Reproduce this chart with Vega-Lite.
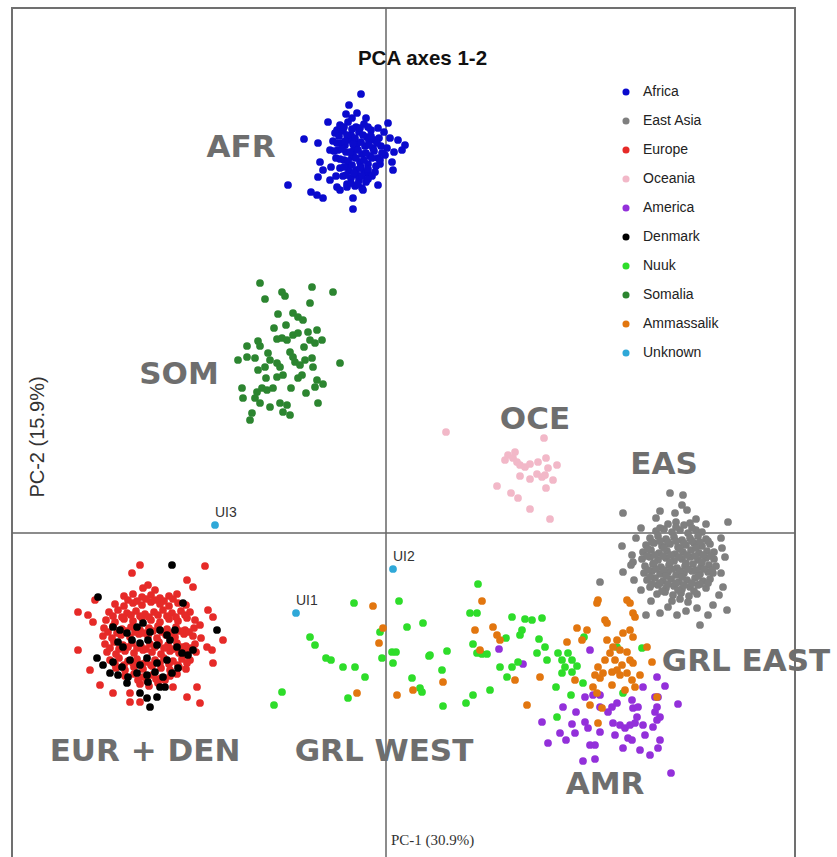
{
  "$schema": "https://vega.github.io/schema/vega-lite/v6.json",
  "autosize": {"type": "none"},
  "width": 783,
  "height": 860,
  "padding": {"left": 12, "top": 8, "right": 42, "bottom": -11},
  "background": "white",
  "title": {"text": "PCA axes 1-2", "anchor": "middle", "dx": 19, "offset": -78, "baseline": "alphabetic", "font": "Liberation Sans", "fontSize": 20.5, "fontWeight": "bold", "color": "#111111"},
  "config": {"view": {"stroke": "#707070", "strokeWidth": 2}},
  "datasets": {
    "pts": [
      {"pop":"Africa","pc1":-25,"pc2":439},{"pop":"Africa","pc1":-37,"pc2":428},{"pop":"Africa","pc1":-29,"pc2":420},{"pop":"Africa","pc1":-82,"pc2":394},{"pop":"Africa","pc1":-68,"pc2":390},{"pop":"Africa","pc1":-98,"pc2":348},{"pop":"Africa","pc1":-75,"pc2":341},{"pop":"Africa","pc1":-69,"pc2":338},{"pop":"Africa","pc1":-63,"pc2":335},{"pop":"Africa","pc1":-33,"pc2":335},{"pop":"Africa","pc1":-33,"pc2":324},{"pop":"Africa","pc1":-8,"pc2":348},{"pop":"Africa","pc1":-18,"pc2":360},{"pop":"Africa","pc1":19,"pc2":388},{"pop":"Africa","pc1":16,"pc2":383},{"pop":"Africa","pc1":6,"pc2":371},{"pop":"Africa","pc1":7,"pc2":363},{"pop":"Africa","pc1":4,"pc2":395},{"pop":"Africa","pc1":2,"pc2":410},{"pop":"Africa","pc1":-8,"pc2":405},{"pop":"Africa","pc1":-58,"pc2":411},{"pop":"Africa","pc1":-49,"pc2":403},{"pop":"Africa","pc1":-66,"pc2":371},{"pop":"Africa","pc1":-63,"pc2":363},{"pop":"Africa","pc1":-68,"pc2":356},{"pop":"Africa","pc1":-56,"pc2":353},{"pop":"Africa","pc1":-49,"pc2":346},{"pop":"Africa","pc1":-23,"pc2":343},{"pop":"Africa","pc1":-39,"pc2":346},
      {"pop":"Africa","pc1":-46,"pc2":408},{"pop":"Africa","pc1":-38,"pc2":411},{"pop":"Africa","pc1":-30,"pc2":406},{"pop":"Africa","pc1":-22,"pc2":409},{"pop":"Africa","pc1":-15,"pc2":403},{"pop":"Africa","pc1":-51,"pc2":400},{"pop":"Africa","pc1":-43,"pc2":402},{"pop":"Africa","pc1":-35,"pc2":398},{"pop":"Africa","pc1":-27,"pc2":401},{"pop":"Africa","pc1":-19,"pc2":396},{"pop":"Africa","pc1":-11,"pc2":393},{"pop":"Africa","pc1":-53,"pc2":392},{"pop":"Africa","pc1":-45,"pc2":390},{"pop":"Africa","pc1":-37,"pc2":393},{"pop":"Africa","pc1":-29,"pc2":389},{"pop":"Africa","pc1":-21,"pc2":387},{"pop":"Africa","pc1":-13,"pc2":385},{"pop":"Africa","pc1":-5,"pc2":387},{"pop":"Africa","pc1":-48,"pc2":383},{"pop":"Africa","pc1":-40,"pc2":381},{"pop":"Africa","pc1":-32,"pc2":384},{"pop":"Africa","pc1":-24,"pc2":379},{"pop":"Africa","pc1":-16,"pc2":377},{"pop":"Africa","pc1":-8,"pc2":375},{"pop":"Africa","pc1":-50,"pc2":375},{"pop":"Africa","pc1":-42,"pc2":373},{"pop":"Africa","pc1":-34,"pc2":376},{"pop":"Africa","pc1":-26,"pc2":371},{"pop":"Africa","pc1":-18,"pc2":369},{"pop":"Africa","pc1":-10,"pc2":367},{"pop":"Africa","pc1":-46,"pc2":365},{"pop":"Africa","pc1":-38,"pc2":367},{"pop":"Africa","pc1":-30,"pc2":363},{"pop":"Africa","pc1":-22,"pc2":361},{"pop":"Africa","pc1":-14,"pc2":357},{"pop":"Africa","pc1":-43,"pc2":357},{"pop":"Africa","pc1":-35,"pc2":355},{"pop":"Africa","pc1":-27,"pc2":353},{"pop":"Africa","pc1":-39,"pc2":349},{"pop":"Africa","pc1":-31,"pc2":347},{"pop":"Africa","pc1":-24,"pc2":345},{"pop":"Africa","pc1":-1,"pc2":378},{"pop":"Africa","pc1":-2,"pc2":401},{"pop":"Africa","pc1":-56,"pc2":383},{"pop":"Africa","pc1":-55,"pc2":366},{"pop":"Africa","pc1":-41,"pc2":388},{"pop":"Africa","pc1":-33,"pc2":378},{"pop":"Africa","pc1":-25,"pc2":366},{"pop":"Africa","pc1":-37,"pc2":362},{"pop":"Africa","pc1":-29,"pc2":358},{"pop":"Africa","pc1":-17,"pc2":392},{"pop":"Africa","pc1":-50,"pc2":357},{"pop":"Africa","pc1":-46,"pc2":343},{"pop":"Africa","pc1":-20,"pc2":351},{"pop":"Africa","pc1":-11,"pc2":361},{"pop":"Africa","pc1":-6,"pc2":369},{"pop":"Africa","pc1":1,"pc2":385},{"pop":"Africa","pc1":8,"pc2":381},{"pop":"Africa","pc1":12,"pc2":393},{"pop":"Africa","pc1":-40,"pc2":419},{"pop":"Africa","pc1":-34,"pc2":415},{"pop":"Africa","pc1":-20,"pc2":415},
      {"pop":"Africa","pc1":-42,"pc2":406},{"pop":"Africa","pc1":-34,"pc2":404},{"pop":"Africa","pc1":-26,"pc2":405},{"pop":"Africa","pc1":-18,"pc2":406},
      {"pop":"Africa","pc1":-47,"pc2":397},{"pop":"Africa","pc1":-39,"pc2":398},{"pop":"Africa","pc1":-31,"pc2":395},{"pop":"Africa","pc1":-23,"pc2":398},{"pop":"Africa","pc1":-15,"pc2":397},{"pop":"Africa","pc1":-7,"pc2":395},
      {"pop":"Africa","pc1":-49,"pc2":390},{"pop":"Africa","pc1":-41,"pc2":392},{"pop":"Africa","pc1":-33,"pc2":389},{"pop":"Africa","pc1":-25,"pc2":391},{"pop":"Africa","pc1":-17,"pc2":388},{"pop":"Africa","pc1":-9,"pc2":390},
      {"pop":"Africa","pc1":-52,"pc2":382},{"pop":"Africa","pc1":-44,"pc2":384},{"pop":"Africa","pc1":-36,"pc2":381},{"pop":"Africa","pc1":-28,"pc2":383},{"pop":"Africa","pc1":-20,"pc2":380},{"pop":"Africa","pc1":-12,"pc2":382},{"pop":"Africa","pc1":-4,"pc2":380},
      {"pop":"Africa","pc1":-46,"pc2":374},{"pop":"Africa","pc1":-38,"pc2":372},{"pop":"Africa","pc1":-30,"pc2":375},{"pop":"Africa","pc1":-22,"pc2":373},{"pop":"Africa","pc1":-14,"pc2":375},{"pop":"Africa","pc1":-6,"pc2":373},
      {"pop":"Africa","pc1":-42,"pc2":366},{"pop":"Africa","pc1":-34,"pc2":368},{"pop":"Africa","pc1":-26,"pc2":365},{"pop":"Africa","pc1":-18,"pc2":364},
      {"pop":"Africa","pc1":-40,"pc2":358},{"pop":"Africa","pc1":-32,"pc2":360},{"pop":"Africa","pc1":-24,"pc2":357},{"pop":"Africa","pc1":-18,"pc2":354},
      {"pop":"Africa","pc1":-35,"pc2":350},{"pop":"Africa","pc1":-28,"pc2":349},

      {"pop":"East Asia","pc1":282,"pc2":9},{"pop":"East Asia","pc1":290,"pc2":11},{"pop":"East Asia","pc1":298,"pc2":8},{"pop":"East Asia","pc1":304,"pc2":10},
      {"pop":"East Asia","pc1":270,"pc2":2},{"pop":"East Asia","pc1":278,"pc2":4},{"pop":"East Asia","pc1":286,"pc2":1},{"pop":"East Asia","pc1":294,"pc2":3},{"pop":"East Asia","pc1":302,"pc2":0},{"pop":"East Asia","pc1":310,"pc2":3},{"pop":"East Asia","pc1":316,"pc2":1},
      {"pop":"East Asia","pc1":264,"pc2":-5},{"pop":"East Asia","pc1":272,"pc2":-3},{"pop":"East Asia","pc1":280,"pc2":-6},{"pop":"East Asia","pc1":288,"pc2":-4},{"pop":"East Asia","pc1":296,"pc2":-7},{"pop":"East Asia","pc1":304,"pc2":-5},{"pop":"East Asia","pc1":312,"pc2":-3},{"pop":"East Asia","pc1":320,"pc2":-6},
      {"pop":"East Asia","pc1":260,"pc2":-12},{"pop":"East Asia","pc1":268,"pc2":-10},{"pop":"East Asia","pc1":276,"pc2":-13},{"pop":"East Asia","pc1":284,"pc2":-11},{"pop":"East Asia","pc1":292,"pc2":-14},{"pop":"East Asia","pc1":300,"pc2":-12},{"pop":"East Asia","pc1":308,"pc2":-10},{"pop":"East Asia","pc1":316,"pc2":-13},{"pop":"East Asia","pc1":324,"pc2":-11},
      {"pop":"East Asia","pc1":257,"pc2":-19},{"pop":"East Asia","pc1":265,"pc2":-17},{"pop":"East Asia","pc1":273,"pc2":-20},{"pop":"East Asia","pc1":281,"pc2":-18},{"pop":"East Asia","pc1":289,"pc2":-21},{"pop":"East Asia","pc1":297,"pc2":-19},{"pop":"East Asia","pc1":305,"pc2":-17},{"pop":"East Asia","pc1":313,"pc2":-20},{"pop":"East Asia","pc1":321,"pc2":-18},{"pop":"East Asia","pc1":328,"pc2":-19},
      {"pop":"East Asia","pc1":256,"pc2":-26},{"pop":"East Asia","pc1":264,"pc2":-24},{"pop":"East Asia","pc1":272,"pc2":-27},{"pop":"East Asia","pc1":280,"pc2":-25},{"pop":"East Asia","pc1":288,"pc2":-28},{"pop":"East Asia","pc1":296,"pc2":-26},{"pop":"East Asia","pc1":304,"pc2":-24},{"pop":"East Asia","pc1":312,"pc2":-27},{"pop":"East Asia","pc1":320,"pc2":-25},{"pop":"East Asia","pc1":328,"pc2":-26},
      {"pop":"East Asia","pc1":259,"pc2":-33},{"pop":"East Asia","pc1":267,"pc2":-31},{"pop":"East Asia","pc1":275,"pc2":-34},{"pop":"East Asia","pc1":283,"pc2":-32},{"pop":"East Asia","pc1":291,"pc2":-35},{"pop":"East Asia","pc1":299,"pc2":-33},{"pop":"East Asia","pc1":307,"pc2":-31},{"pop":"East Asia","pc1":315,"pc2":-34},{"pop":"East Asia","pc1":323,"pc2":-32},{"pop":"East Asia","pc1":330,"pc2":-33},
      {"pop":"East Asia","pc1":258,"pc2":-40},{"pop":"East Asia","pc1":266,"pc2":-38},{"pop":"East Asia","pc1":274,"pc2":-41},{"pop":"East Asia","pc1":282,"pc2":-39},{"pop":"East Asia","pc1":290,"pc2":-42},{"pop":"East Asia","pc1":298,"pc2":-40},{"pop":"East Asia","pc1":306,"pc2":-38},{"pop":"East Asia","pc1":314,"pc2":-41},{"pop":"East Asia","pc1":322,"pc2":-39},{"pop":"East Asia","pc1":327,"pc2":-40},
      {"pop":"East Asia","pc1":261,"pc2":-47},{"pop":"East Asia","pc1":269,"pc2":-45},{"pop":"East Asia","pc1":277,"pc2":-48},{"pop":"East Asia","pc1":285,"pc2":-46},{"pop":"East Asia","pc1":293,"pc2":-49},{"pop":"East Asia","pc1":301,"pc2":-47},{"pop":"East Asia","pc1":309,"pc2":-45},{"pop":"East Asia","pc1":317,"pc2":-48},{"pop":"East Asia","pc1":324,"pc2":-46},
      {"pop":"East Asia","pc1":264,"pc2":-54},{"pop":"East Asia","pc1":272,"pc2":-52},{"pop":"East Asia","pc1":280,"pc2":-55},{"pop":"East Asia","pc1":288,"pc2":-53},{"pop":"East Asia","pc1":296,"pc2":-56},{"pop":"East Asia","pc1":304,"pc2":-54},{"pop":"East Asia","pc1":312,"pc2":-52},{"pop":"East Asia","pc1":320,"pc2":-55},
      {"pop":"East Asia","pc1":271,"pc2":-61},{"pop":"East Asia","pc1":279,"pc2":-59},{"pop":"East Asia","pc1":287,"pc2":-62},{"pop":"East Asia","pc1":295,"pc2":-60},{"pop":"East Asia","pc1":303,"pc2":-63},{"pop":"East Asia","pc1":311,"pc2":-61},
      {"pop":"East Asia","pc1":286,"pc2":-68},{"pop":"East Asia","pc1":294,"pc2":-66},{"pop":"East Asia","pc1":302,"pc2":-69},
      {"pop":"East Asia","pc1":266,"pc2":-9},{"pop":"East Asia","pc1":274,"pc2":-8},{"pop":"East Asia","pc1":282,"pc2":-9},{"pop":"East Asia","pc1":290,"pc2":-8},{"pop":"East Asia","pc1":298,"pc2":-10},{"pop":"East Asia","pc1":306,"pc2":-8},{"pop":"East Asia","pc1":314,"pc2":-9},{"pop":"East Asia","pc1":322,"pc2":-8},
      {"pop":"East Asia","pc1":261,"pc2":-23},{"pop":"East Asia","pc1":269,"pc2":-22},{"pop":"East Asia","pc1":277,"pc2":-23},{"pop":"East Asia","pc1":285,"pc2":-22},{"pop":"East Asia","pc1":293,"pc2":-24},{"pop":"East Asia","pc1":301,"pc2":-22},{"pop":"East Asia","pc1":309,"pc2":-23},{"pop":"East Asia","pc1":317,"pc2":-22},{"pop":"East Asia","pc1":325,"pc2":-23},
      {"pop":"East Asia","pc1":262,"pc2":-37},{"pop":"East Asia","pc1":270,"pc2":-36},{"pop":"East Asia","pc1":278,"pc2":-37},{"pop":"East Asia","pc1":286,"pc2":-36},{"pop":"East Asia","pc1":294,"pc2":-38},{"pop":"East Asia","pc1":302,"pc2":-36},{"pop":"East Asia","pc1":310,"pc2":-37},{"pop":"East Asia","pc1":318,"pc2":-36},{"pop":"East Asia","pc1":326,"pc2":-37},
      {"pop":"East Asia","pc1":266,"pc2":-51},{"pop":"East Asia","pc1":274,"pc2":-50},{"pop":"East Asia","pc1":282,"pc2":-51},{"pop":"East Asia","pc1":290,"pc2":-50},{"pop":"East Asia","pc1":298,"pc2":-52},{"pop":"East Asia","pc1":306,"pc2":-50},{"pop":"East Asia","pc1":314,"pc2":-51},{"pop":"East Asia","pc1":322,"pc2":-50},
      {"pop":"East Asia","pc1":262,"pc2":-16},{"pop":"East Asia","pc1":278,"pc2":-15},{"pop":"East Asia","pc1":294,"pc2":-16},{"pop":"East Asia","pc1":310,"pc2":-15},
      {"pop":"East Asia","pc1":268,"pc2":-30},{"pop":"East Asia","pc1":284,"pc2":-29},{"pop":"East Asia","pc1":300,"pc2":-30},{"pop":"East Asia","pc1":316,"pc2":-29},
      {"pop":"East Asia","pc1":264,"pc2":-44},{"pop":"East Asia","pc1":280,"pc2":-43},{"pop":"East Asia","pc1":296,"pc2":-44},{"pop":"East Asia","pc1":312,"pc2":-43},
      {"pop":"East Asia","pc1":276,"pc2":-58},{"pop":"East Asia","pc1":292,"pc2":-57},{"pop":"East Asia","pc1":308,"pc2":-58},
      {"pop":"East Asia","pc1":274,"pc2":5},{"pop":"East Asia","pc1":290,"pc2":6},{"pop":"East Asia","pc1":306,"pc2":5},
      {"pop":"East Asia","pc1":284,"pc2":40},{"pop":"East Asia","pc1":297,"pc2":38},{"pop":"East Asia","pc1":296,"pc2":28},{"pop":"East Asia","pc1":301,"pc2":23},{"pop":"East Asia","pc1":274,"pc2":22},{"pop":"East Asia","pc1":289,"pc2":20},{"pop":"East Asia","pc1":237,"pc2":20},{"pop":"East Asia","pc1":342,"pc2":11},{"pop":"East Asia","pc1":236,"pc2":-13},{"pop":"East Asia","pc1":214,"pc2":-49},{"pop":"East Asia","pc1":339,"pc2":-24},{"pop":"East Asia","pc1":336,"pc2":-15},{"pop":"East Asia","pc1":337,"pc2":-54},{"pop":"East Asia","pc1":341,"pc2":-77},{"pop":"East Asia","pc1":327,"pc2":-72},{"pop":"East Asia","pc1":322,"pc2":-82},{"pop":"East Asia","pc1":311,"pc2":-75},{"pop":"East Asia","pc1":314,"pc2":-92},{"pop":"East Asia","pc1":291,"pc2":-82},{"pop":"East Asia","pc1":274,"pc2":-80},{"pop":"East Asia","pc1":246,"pc2":-22},{"pop":"East Asia","pc1":247,"pc2":-29},{"pop":"East Asia","pc1":237,"pc2":-39},{"pop":"East Asia","pc1":245,"pc2":-32},{"pop":"East Asia","pc1":248,"pc2":-47},{"pop":"East Asia","pc1":255,"pc2":-57},{"pop":"East Asia","pc1":260,"pc2":-82},{"pop":"East Asia","pc1":270,"pc2":15},{"pop":"East Asia","pc1":310,"pc2":14},{"pop":"East Asia","pc1":320,"pc2":9},{"pop":"East Asia","pc1":255,"pc2":5},{"pop":"East Asia","pc1":250,"pc2":-5},{"pop":"East Asia","pc1":335,"pc2":-5},{"pop":"East Asia","pc1":335,"pc2":-40},{"pop":"East Asia","pc1":333,"pc2":-62},{"pop":"East Asia","pc1":282,"pc2":-74},{"pop":"East Asia","pc1":300,"pc2":-78},{"pop":"East Asia","pc1":265,"pc2":-68},

      {"pop":"Europe","pc1":-243,"pc2":-55},{"pop":"Europe","pc1":-231,"pc2":-57},
      {"pop":"Europe","pc1":-262,"pc2":-63},{"pop":"Europe","pc1":-253,"pc2":-61},{"pop":"Europe","pc1":-244,"pc2":-64},{"pop":"Europe","pc1":-235,"pc2":-62},{"pop":"Europe","pc1":-226,"pc2":-65},{"pop":"Europe","pc1":-217,"pc2":-63},{"pop":"Europe","pc1":-209,"pc2":-61},
      {"pop":"Europe","pc1":-271,"pc2":-71},{"pop":"Europe","pc1":-262,"pc2":-73},{"pop":"Europe","pc1":-253,"pc2":-70},{"pop":"Europe","pc1":-244,"pc2":-72},{"pop":"Europe","pc1":-235,"pc2":-69},{"pop":"Europe","pc1":-226,"pc2":-71},{"pop":"Europe","pc1":-217,"pc2":-73},{"pop":"Europe","pc1":-208,"pc2":-70},{"pop":"Europe","pc1":-200,"pc2":-72},
      {"pop":"Europe","pc1":-277,"pc2":-79},{"pop":"Europe","pc1":-268,"pc2":-77},{"pop":"Europe","pc1":-259,"pc2":-80},{"pop":"Europe","pc1":-250,"pc2":-78},{"pop":"Europe","pc1":-241,"pc2":-81},{"pop":"Europe","pc1":-232,"pc2":-79},{"pop":"Europe","pc1":-223,"pc2":-77},{"pop":"Europe","pc1":-214,"pc2":-80},{"pop":"Europe","pc1":-205,"pc2":-78},{"pop":"Europe","pc1":-196,"pc2":-79},
      {"pop":"Europe","pc1":-280,"pc2":-87},{"pop":"Europe","pc1":-271,"pc2":-89},{"pop":"Europe","pc1":-262,"pc2":-86},{"pop":"Europe","pc1":-253,"pc2":-88},{"pop":"Europe","pc1":-244,"pc2":-85},{"pop":"Europe","pc1":-235,"pc2":-87},{"pop":"Europe","pc1":-226,"pc2":-89},{"pop":"Europe","pc1":-217,"pc2":-86},{"pop":"Europe","pc1":-208,"pc2":-88},{"pop":"Europe","pc1":-199,"pc2":-85},{"pop":"Europe","pc1":-191,"pc2":-87},
      {"pop":"Europe","pc1":-282,"pc2":-95},{"pop":"Europe","pc1":-273,"pc2":-93},{"pop":"Europe","pc1":-264,"pc2":-96},{"pop":"Europe","pc1":-255,"pc2":-94},{"pop":"Europe","pc1":-246,"pc2":-97},{"pop":"Europe","pc1":-237,"pc2":-95},{"pop":"Europe","pc1":-228,"pc2":-93},{"pop":"Europe","pc1":-219,"pc2":-96},{"pop":"Europe","pc1":-210,"pc2":-94},{"pop":"Europe","pc1":-201,"pc2":-97},{"pop":"Europe","pc1":-192,"pc2":-95},
      {"pop":"Europe","pc1":-283,"pc2":-103},{"pop":"Europe","pc1":-274,"pc2":-105},{"pop":"Europe","pc1":-265,"pc2":-102},{"pop":"Europe","pc1":-256,"pc2":-104},{"pop":"Europe","pc1":-247,"pc2":-101},{"pop":"Europe","pc1":-238,"pc2":-103},{"pop":"Europe","pc1":-229,"pc2":-105},{"pop":"Europe","pc1":-220,"pc2":-102},{"pop":"Europe","pc1":-211,"pc2":-104},{"pop":"Europe","pc1":-202,"pc2":-101},{"pop":"Europe","pc1":-193,"pc2":-103},{"pop":"Europe","pc1":-185,"pc2":-105},
      {"pop":"Europe","pc1":-281,"pc2":-111},{"pop":"Europe","pc1":-272,"pc2":-109},{"pop":"Europe","pc1":-263,"pc2":-112},{"pop":"Europe","pc1":-254,"pc2":-110},{"pop":"Europe","pc1":-245,"pc2":-113},{"pop":"Europe","pc1":-236,"pc2":-111},{"pop":"Europe","pc1":-227,"pc2":-109},{"pop":"Europe","pc1":-218,"pc2":-112},{"pop":"Europe","pc1":-209,"pc2":-110},{"pop":"Europe","pc1":-200,"pc2":-113},{"pop":"Europe","pc1":-191,"pc2":-111},
      {"pop":"Europe","pc1":-279,"pc2":-119},{"pop":"Europe","pc1":-270,"pc2":-121},{"pop":"Europe","pc1":-261,"pc2":-118},{"pop":"Europe","pc1":-252,"pc2":-120},{"pop":"Europe","pc1":-243,"pc2":-117},{"pop":"Europe","pc1":-234,"pc2":-119},{"pop":"Europe","pc1":-225,"pc2":-121},{"pop":"Europe","pc1":-216,"pc2":-118},{"pop":"Europe","pc1":-207,"pc2":-120},{"pop":"Europe","pc1":-198,"pc2":-117},{"pop":"Europe","pc1":-190,"pc2":-119},
      {"pop":"Europe","pc1":-276,"pc2":-127},{"pop":"Europe","pc1":-267,"pc2":-125},{"pop":"Europe","pc1":-258,"pc2":-128},{"pop":"Europe","pc1":-249,"pc2":-126},{"pop":"Europe","pc1":-240,"pc2":-129},{"pop":"Europe","pc1":-231,"pc2":-127},{"pop":"Europe","pc1":-222,"pc2":-125},{"pop":"Europe","pc1":-213,"pc2":-128},{"pop":"Europe","pc1":-204,"pc2":-126},{"pop":"Europe","pc1":-196,"pc2":-127},
      {"pop":"Europe","pc1":-270,"pc2":-135},{"pop":"Europe","pc1":-261,"pc2":-137},{"pop":"Europe","pc1":-252,"pc2":-134},{"pop":"Europe","pc1":-243,"pc2":-136},{"pop":"Europe","pc1":-234,"pc2":-133},{"pop":"Europe","pc1":-225,"pc2":-135},{"pop":"Europe","pc1":-216,"pc2":-137},{"pop":"Europe","pc1":-207,"pc2":-134},{"pop":"Europe","pc1":-200,"pc2":-136},
      {"pop":"Europe","pc1":-261,"pc2":-143},{"pop":"Europe","pc1":-252,"pc2":-141},{"pop":"Europe","pc1":-243,"pc2":-144},{"pop":"Europe","pc1":-234,"pc2":-142},{"pop":"Europe","pc1":-225,"pc2":-145},{"pop":"Europe","pc1":-216,"pc2":-143},{"pop":"Europe","pc1":-209,"pc2":-141},
      {"pop":"Europe","pc1":-246,"pc2":-151},{"pop":"Europe","pc1":-237,"pc2":-153},{"pop":"Europe","pc1":-228,"pc2":-150},
      {"pop":"Europe","pc1":-258,"pc2":-67},{"pop":"Europe","pc1":-249,"pc2":-68},{"pop":"Europe","pc1":-240,"pc2":-66},{"pop":"Europe","pc1":-231,"pc2":-67},{"pop":"Europe","pc1":-222,"pc2":-68},{"pop":"Europe","pc1":-213,"pc2":-66},
      {"pop":"Europe","pc1":-273,"pc2":-83},{"pop":"Europe","pc1":-264,"pc2":-84},{"pop":"Europe","pc1":-255,"pc2":-82},{"pop":"Europe","pc1":-246,"pc2":-83},{"pop":"Europe","pc1":-237,"pc2":-84},{"pop":"Europe","pc1":-228,"pc2":-82},{"pop":"Europe","pc1":-219,"pc2":-83},{"pop":"Europe","pc1":-210,"pc2":-84},{"pop":"Europe","pc1":-201,"pc2":-82},
      {"pop":"Europe","pc1":-278,"pc2":-99},{"pop":"Europe","pc1":-269,"pc2":-100},{"pop":"Europe","pc1":-260,"pc2":-98},{"pop":"Europe","pc1":-251,"pc2":-99},{"pop":"Europe","pc1":-242,"pc2":-100},{"pop":"Europe","pc1":-233,"pc2":-98},{"pop":"Europe","pc1":-224,"pc2":-99},{"pop":"Europe","pc1":-215,"pc2":-100},{"pop":"Europe","pc1":-206,"pc2":-98},{"pop":"Europe","pc1":-197,"pc2":-99},
      {"pop":"Europe","pc1":-276,"pc2":-115},{"pop":"Europe","pc1":-267,"pc2":-116},{"pop":"Europe","pc1":-258,"pc2":-114},{"pop":"Europe","pc1":-249,"pc2":-115},{"pop":"Europe","pc1":-240,"pc2":-116},{"pop":"Europe","pc1":-231,"pc2":-114},{"pop":"Europe","pc1":-222,"pc2":-115},{"pop":"Europe","pc1":-213,"pc2":-116},{"pop":"Europe","pc1":-204,"pc2":-114},{"pop":"Europe","pc1":-195,"pc2":-115},
      {"pop":"Europe","pc1":-271,"pc2":-131},{"pop":"Europe","pc1":-262,"pc2":-132},{"pop":"Europe","pc1":-253,"pc2":-130},{"pop":"Europe","pc1":-244,"pc2":-131},{"pop":"Europe","pc1":-235,"pc2":-132},{"pop":"Europe","pc1":-226,"pc2":-130},{"pop":"Europe","pc1":-217,"pc2":-131},{"pop":"Europe","pc1":-208,"pc2":-132},{"pop":"Europe","pc1":-199,"pc2":-130},
      {"pop":"Europe","pc1":-248,"pc2":-147},{"pop":"Europe","pc1":-239,"pc2":-148},{"pop":"Europe","pc1":-230,"pc2":-146},{"pop":"Europe","pc1":-221,"pc2":-147},
      {"pop":"Europe","pc1":-246,"pc2":-32},{"pop":"Europe","pc1":-181,"pc2":-33},{"pop":"Europe","pc1":-199,"pc2":-47},{"pop":"Europe","pc1":-193,"pc2":-54},{"pop":"Europe","pc1":-254,"pc2":-40},{"pop":"Europe","pc1":-238,"pc2":-52},{"pop":"Europe","pc1":-308,"pc2":-79},{"pop":"Europe","pc1":-298,"pc2":-82},{"pop":"Europe","pc1":-293,"pc2":-89},{"pop":"Europe","pc1":-178,"pc2":-77},{"pop":"Europe","pc1":-173,"pc2":-84},{"pop":"Europe","pc1":-186,"pc2":-92},{"pop":"Europe","pc1":-163,"pc2":-107},{"pop":"Europe","pc1":-308,"pc2":-117},{"pop":"Europe","pc1":-179,"pc2":-114},{"pop":"Europe","pc1":-189,"pc2":-154},{"pop":"Europe","pc1":-273,"pc2":-160},{"pop":"Europe","pc1":-256,"pc2":-160},{"pop":"Europe","pc1":-256,"pc2":-169},{"pop":"Europe","pc1":-213,"pc2":-154},{"pop":"Europe","pc1":-199,"pc2":-164},{"pop":"Europe","pc1":-246,"pc2":-169},{"pop":"Europe","pc1":-186,"pc2":-170},{"pop":"Europe","pc1":-296,"pc2":-137},{"pop":"Europe","pc1":-173,"pc2":-130},{"pop":"Europe","pc1":-291,"pc2":-67},{"pop":"Europe","pc1":-286,"pc2":-152},{"pop":"Europe","pc1":-174,"pc2":-117},

      {"pop":"Oceania","pc1":60,"pc2":101},{"pop":"Oceania","pc1":158,"pc2":95},{"pop":"Oceania","pc1":122,"pc2":78},{"pop":"Oceania","pc1":127,"pc2":75},{"pop":"Oceania","pc1":131,"pc2":71},{"pop":"Oceania","pc1":134,"pc2":68},{"pop":"Oceania","pc1":139,"pc2":66},{"pop":"Oceania","pc1":144,"pc2":69},{"pop":"Oceania","pc1":160,"pc2":75},{"pop":"Oceania","pc1":171,"pc2":68},{"pop":"Oceania","pc1":162,"pc2":65},{"pop":"Oceania","pc1":134,"pc2":57},{"pop":"Oceania","pc1":144,"pc2":54},{"pop":"Oceania","pc1":151,"pc2":59},{"pop":"Oceania","pc1":156,"pc2":56},{"pop":"Oceania","pc1":159,"pc2":58},{"pop":"Oceania","pc1":167,"pc2":53},{"pop":"Oceania","pc1":111,"pc2":47},{"pop":"Oceania","pc1":160,"pc2":45},{"pop":"Oceania","pc1":125,"pc2":40},{"pop":"Oceania","pc1":132,"pc2":35},{"pop":"Oceania","pc1":144,"pc2":24},{"pop":"Oceania","pc1":164,"pc2":14},{"pop":"Oceania","pc1":129,"pc2":81},{"pop":"Oceania","pc1":119,"pc2":73},{"pop":"Oceania","pc1":152,"pc2":71},

      {"pop":"America","pc1":113,"pc2":-116},{"pop":"America","pc1":137,"pc2":-131},{"pop":"America","pc1":204,"pc2":-117},{"pop":"America","pc1":199,"pc2":-164},{"pop":"America","pc1":207,"pc2":-162},{"pop":"America","pc1":214,"pc2":-162},{"pop":"America","pc1":177,"pc2":-174},{"pop":"America","pc1":156,"pc2":-189},{"pop":"America","pc1":162,"pc2":-210},{"pop":"America","pc1":174,"pc2":-200},{"pop":"America","pc1":186,"pc2":-191},{"pop":"America","pc1":189,"pc2":-200},{"pop":"America","pc1":199,"pc2":-189},{"pop":"America","pc1":202,"pc2":-195},{"pop":"America","pc1":204,"pc2":-212},{"pop":"America","pc1":209,"pc2":-212},{"pop":"America","pc1":197,"pc2":-228},{"pop":"America","pc1":209,"pc2":-226},{"pop":"America","pc1":214,"pc2":-199},{"pop":"America","pc1":214,"pc2":-174},{"pop":"America","pc1":222,"pc2":-179},{"pop":"America","pc1":226,"pc2":-174},{"pop":"America","pc1":231,"pc2":-170},{"pop":"America","pc1":227,"pc2":-190},{"pop":"America","pc1":234,"pc2":-192},{"pop":"America","pc1":239,"pc2":-195},{"pop":"America","pc1":244,"pc2":-192},{"pop":"America","pc1":249,"pc2":-190},{"pop":"America","pc1":257,"pc2":-192},{"pop":"America","pc1":251,"pc2":-184},{"pop":"America","pc1":246,"pc2":-167},{"pop":"America","pc1":247,"pc2":-175},{"pop":"America","pc1":252,"pc2":-174},{"pop":"America","pc1":242,"pc2":-205},{"pop":"America","pc1":246,"pc2":-207},{"pop":"America","pc1":237,"pc2":-215},{"pop":"America","pc1":254,"pc2":-217},{"pop":"America","pc1":264,"pc2":-222},{"pop":"America","pc1":272,"pc2":-215},{"pop":"America","pc1":274,"pc2":-207},{"pop":"America","pc1":267,"pc2":-194},{"pop":"America","pc1":271,"pc2":-187},{"pop":"America","pc1":274,"pc2":-184},{"pop":"America","pc1":271,"pc2":-174},{"pop":"America","pc1":269,"pc2":-164},{"pop":"America","pc1":272,"pc2":-164},{"pop":"America","pc1":279,"pc2":-153},{"pop":"America","pc1":271,"pc2":-144},{"pop":"America","pc1":257,"pc2":-154},{"pop":"America","pc1":292,"pc2":-171},{"pop":"America","pc1":285,"pc2":-240},{"pop":"America","pc1":269,"pc2":-179},{"pop":"America","pc1":190,"pc2":-179},{"pop":"America","pc1":180,"pc2":-207},{"pop":"America","pc1":229,"pc2":-202},{"pop":"America","pc1":259,"pc2":-202},

      {"pop":"Denmark","pc1":-214,"pc2":-32},{"pop":"Denmark","pc1":-288,"pc2":-64},{"pop":"Denmark","pc1":-203,"pc2":-70},{"pop":"Denmark","pc1":-169,"pc2":-97},{"pop":"Denmark","pc1":-273,"pc2":-94},{"pop":"Denmark","pc1":-266,"pc2":-97},{"pop":"Denmark","pc1":-259,"pc2":-100},{"pop":"Denmark","pc1":-249,"pc2":-94},{"pop":"Denmark","pc1":-243,"pc2":-90},{"pop":"Denmark","pc1":-236,"pc2":-99},{"pop":"Denmark","pc1":-226,"pc2":-97},{"pop":"Denmark","pc1":-219,"pc2":-102},{"pop":"Denmark","pc1":-211,"pc2":-97},{"pop":"Denmark","pc1":-268,"pc2":-109},{"pop":"Denmark","pc1":-263,"pc2":-114},{"pop":"Denmark","pc1":-254,"pc2":-107},{"pop":"Denmark","pc1":-246,"pc2":-110},{"pop":"Denmark","pc1":-238,"pc2":-107},{"pop":"Denmark","pc1":-229,"pc2":-112},{"pop":"Denmark","pc1":-216,"pc2":-107},{"pop":"Denmark","pc1":-209,"pc2":-114},{"pop":"Denmark","pc1":-204,"pc2":-120},{"pop":"Denmark","pc1":-193,"pc2":-117},{"pop":"Denmark","pc1":-289,"pc2":-125},{"pop":"Denmark","pc1":-283,"pc2":-132},{"pop":"Denmark","pc1":-273,"pc2":-129},{"pop":"Denmark","pc1":-264,"pc2":-134},{"pop":"Denmark","pc1":-256,"pc2":-127},{"pop":"Denmark","pc1":-246,"pc2":-132},{"pop":"Denmark","pc1":-239,"pc2":-125},{"pop":"Denmark","pc1":-229,"pc2":-130},{"pop":"Denmark","pc1":-219,"pc2":-127},{"pop":"Denmark","pc1":-276,"pc2":-140},{"pop":"Denmark","pc1":-268,"pc2":-142},{"pop":"Denmark","pc1":-258,"pc2":-144},{"pop":"Denmark","pc1":-249,"pc2":-140},{"pop":"Denmark","pc1":-239,"pc2":-142},{"pop":"Denmark","pc1":-231,"pc2":-139},{"pop":"Denmark","pc1":-223,"pc2":-144},{"pop":"Denmark","pc1":-214,"pc2":-140},{"pop":"Denmark","pc1":-208,"pc2":-135},{"pop":"Denmark","pc1":-259,"pc2":-150},{"pop":"Denmark","pc1":-238,"pc2":-149},{"pop":"Denmark","pc1":-226,"pc2":-154},{"pop":"Denmark","pc1":-246,"pc2":-160},{"pop":"Denmark","pc1":-239,"pc2":-165},{"pop":"Denmark","pc1":-229,"pc2":-164},{"pop":"Denmark","pc1":-221,"pc2":-154},{"pop":"Denmark","pc1":-236,"pc2":-174},{"pop":"Denmark","pc1":-198,"pc2":-122},

      {"pop":"Nuuk","pc1":-32,"pc2":-70},{"pop":"Nuuk","pc1":13,"pc2":-68},{"pop":"Nuuk","pc1":-76,"pc2":-104},{"pop":"Nuuk","pc1":-71,"pc2":-112},{"pop":"Nuuk","pc1":-60,"pc2":-125},{"pop":"Nuuk","pc1":-55,"pc2":-127},{"pop":"Nuuk","pc1":-43,"pc2":-134},{"pop":"Nuuk","pc1":-31,"pc2":-134},{"pop":"Nuuk","pc1":-21,"pc2":-144},{"pop":"Nuuk","pc1":-104,"pc2":-159},{"pop":"Nuuk","pc1":-112,"pc2":-172},{"pop":"Nuuk","pc1":-38,"pc2":-165},{"pop":"Nuuk","pc1":-6,"pc2":-99},{"pop":"Nuuk","pc1":-4,"pc2":-125},{"pop":"Nuuk","pc1":6,"pc2":-119},{"pop":"Nuuk","pc1":10,"pc2":-119},{"pop":"Nuuk","pc1":7,"pc2":-130},{"pop":"Nuuk","pc1":21,"pc2":-94},{"pop":"Nuuk","pc1":37,"pc2":-90},{"pop":"Nuuk","pc1":26,"pc2":-145},{"pop":"Nuuk","pc1":34,"pc2":-155},{"pop":"Nuuk","pc1":36,"pc2":-159},{"pop":"Nuuk","pc1":43,"pc2":-123},{"pop":"Nuuk","pc1":56,"pc2":-137},{"pop":"Nuuk","pc1":61,"pc2":-118},{"pop":"Nuuk","pc1":57,"pc2":-173},{"pop":"Nuuk","pc1":80,"pc2":-170},{"pop":"Nuuk","pc1":87,"pc2":-162},{"pop":"Nuuk","pc1":92,"pc2":-51},{"pop":"Nuuk","pc1":84,"pc2":-80},{"pop":"Nuuk","pc1":91,"pc2":-80},{"pop":"Nuuk","pc1":87,"pc2":-111},{"pop":"Nuuk","pc1":91,"pc2":-120},{"pop":"Nuuk","pc1":101,"pc2":-121},{"pop":"Nuuk","pc1":104,"pc2":-157},{"pop":"Nuuk","pc1":114,"pc2":-134},{"pop":"Nuuk","pc1":121,"pc2":-144},{"pop":"Nuuk","pc1":120,"pc2":-105},{"pop":"Nuuk","pc1":126,"pc2":-84},{"pop":"Nuuk","pc1":134,"pc2":-102},{"pop":"Nuuk","pc1":136,"pc2":-97},{"pop":"Nuuk","pc1":126,"pc2":-134},{"pop":"Nuuk","pc1":132,"pc2":-129},{"pop":"Nuuk","pc1":139,"pc2":-86},{"pop":"Nuuk","pc1":146,"pc2":-87},{"pop":"Nuuk","pc1":156,"pc2":-85},{"pop":"Nuuk","pc1":153,"pc2":-106},{"pop":"Nuuk","pc1":159,"pc2":-114},{"pop":"Nuuk","pc1":151,"pc2":-120},{"pop":"Nuuk","pc1":161,"pc2":-127},{"pop":"Nuuk","pc1":172,"pc2":-120},{"pop":"Nuuk","pc1":182,"pc2":-120},{"pop":"Nuuk","pc1":176,"pc2":-127},{"pop":"Nuuk","pc1":186,"pc2":-127},{"pop":"Nuuk","pc1":191,"pc2":-133},{"pop":"Nuuk","pc1":179,"pc2":-134},{"pop":"Nuuk","pc1":176,"pc2":-140},{"pop":"Nuuk","pc1":186,"pc2":-139},{"pop":"Nuuk","pc1":170,"pc2":-154},{"pop":"Nuuk","pc1":185,"pc2":-162},{"pop":"Nuuk","pc1":171,"pc2":-184},{"pop":"Nuuk","pc1":198,"pc2":-104},{"pop":"Nuuk","pc1":197,"pc2":-150},{"pop":"Nuuk","pc1":231,"pc2":-114},{"pop":"Nuuk","pc1":237,"pc2":-160},{"pop":"Nuuk","pc1":256,"pc2":-115},{"pop":"Nuuk","pc1":44,"pc2":-122},{"pop":"Nuuk","pc1":96,"pc2":-121},

      {"pop":"Somalia","pc1":-126,"pc2":250},{"pop":"Somalia","pc1":-121,"pc2":234},{"pop":"Somalia","pc1":-104,"pc2":241},{"pop":"Somalia","pc1":-101,"pc2":237},{"pop":"Somalia","pc1":-74,"pc2":246},{"pop":"Somalia","pc1":-53,"pc2":241},{"pop":"Somalia","pc1":-76,"pc2":230},{"pop":"Somalia","pc1":-108,"pc2":219},{"pop":"Somalia","pc1":-93,"pc2":220},{"pop":"Somalia","pc1":-88,"pc2":216},{"pop":"Somalia","pc1":-83,"pc2":213},{"pop":"Somalia","pc1":-109,"pc2":194},{"pop":"Somalia","pc1":-104,"pc2":195},{"pop":"Somalia","pc1":-99,"pc2":193},{"pop":"Somalia","pc1":-93,"pc2":198},{"pop":"Somalia","pc1":-88,"pc2":200},{"pop":"Somalia","pc1":-78,"pc2":201},{"pop":"Somalia","pc1":-69,"pc2":203},{"pop":"Somalia","pc1":-76,"pc2":193},{"pop":"Somalia","pc1":-64,"pc2":193},{"pop":"Somalia","pc1":-71,"pc2":190},{"pop":"Somalia","pc1":-139,"pc2":187},{"pop":"Somalia","pc1":-128,"pc2":192},{"pop":"Somalia","pc1":-126,"pc2":187},{"pop":"Somalia","pc1":-148,"pc2":173},{"pop":"Somalia","pc1":-139,"pc2":176},{"pop":"Somalia","pc1":-131,"pc2":175},{"pop":"Somalia","pc1":-118,"pc2":180},{"pop":"Somalia","pc1":-116,"pc2":173},{"pop":"Somalia","pc1":-109,"pc2":170},{"pop":"Somalia","pc1":-106,"pc2":166},{"pop":"Somalia","pc1":-96,"pc2":181},{"pop":"Somalia","pc1":-93,"pc2":176},{"pop":"Somalia","pc1":-91,"pc2":171},{"pop":"Somalia","pc1":-86,"pc2":168},{"pop":"Somalia","pc1":-81,"pc2":173},{"pop":"Somalia","pc1":-74,"pc2":175},{"pop":"Somalia","pc1":-73,"pc2":166},{"pop":"Somalia","pc1":-46,"pc2":170},{"pop":"Somalia","pc1":-128,"pc2":163},{"pop":"Somalia","pc1":-121,"pc2":166},{"pop":"Somalia","pc1":-109,"pc2":156},{"pop":"Somalia","pc1":-103,"pc2":158},{"pop":"Somalia","pc1":-88,"pc2":155},{"pop":"Somalia","pc1":-84,"pc2":158},{"pop":"Somalia","pc1":-69,"pc2":153},{"pop":"Somalia","pc1":-63,"pc2":149},{"pop":"Somalia","pc1":-71,"pc2":146},{"pop":"Somalia","pc1":-144,"pc2":145},{"pop":"Somalia","pc1":-143,"pc2":135},{"pop":"Somalia","pc1":-129,"pc2":141},{"pop":"Somalia","pc1":-124,"pc2":145},{"pop":"Somalia","pc1":-119,"pc2":143},{"pop":"Somalia","pc1":-113,"pc2":145},{"pop":"Somalia","pc1":-126,"pc2":130},{"pop":"Somalia","pc1":-116,"pc2":126},{"pop":"Somalia","pc1":-106,"pc2":130},{"pop":"Somalia","pc1":-99,"pc2":128},{"pop":"Somalia","pc1":-96,"pc2":118},{"pop":"Somalia","pc1":-103,"pc2":121},{"pop":"Somalia","pc1":-134,"pc2":120},{"pop":"Somalia","pc1":-136,"pc2":113},{"pop":"Somalia","pc1":-68,"pc2":130},{"pop":"Somalia","pc1":-131,"pc2":135},{"pop":"Somalia","pc1":-100,"pc2":208},{"pop":"Somalia","pc1":-112,"pc2":205},{"pop":"Somalia","pc1":-82,"pc2":186},{"pop":"Somalia","pc1":-95,"pc2":145},{"pop":"Somalia","pc1":-120,"pc2":155},{"pop":"Somalia","pc1":-80,"pc2":140},

      {"pop":"Ammassalik","pc1":-13,"pc2":-73},{"pop":"Ammassalik","pc1":-3,"pc2":-95},{"pop":"Ammassalik","pc1":-7,"pc2":-110},{"pop":"Ammassalik","pc1":-29,"pc2":-160},{"pop":"Ammassalik","pc1":11,"pc2":-162},{"pop":"Ammassalik","pc1":27,"pc2":-157},{"pop":"Ammassalik","pc1":57,"pc2":-149},{"pop":"Ammassalik","pc1":89,"pc2":-97},{"pop":"Ammassalik","pc1":96,"pc2":-68},{"pop":"Ammassalik","pc1":94,"pc2":-117},{"pop":"Ammassalik","pc1":107,"pc2":-94},{"pop":"Ammassalik","pc1":111,"pc2":-102},{"pop":"Ammassalik","pc1":114,"pc2":-107},{"pop":"Ammassalik","pc1":129,"pc2":-147},{"pop":"Ammassalik","pc1":141,"pc2":-172},{"pop":"Ammassalik","pc1":154,"pc2":-144},{"pop":"Ammassalik","pc1":181,"pc2":-109},{"pop":"Ammassalik","pc1":191,"pc2":-95},{"pop":"Ammassalik","pc1":201,"pc2":-97},{"pop":"Ammassalik","pc1":196,"pc2":-107},{"pop":"Ammassalik","pc1":212,"pc2":-67},{"pop":"Ammassalik","pc1":211,"pc2":-70},{"pop":"Ammassalik","pc1":219,"pc2":-87},{"pop":"Ammassalik","pc1":221,"pc2":-90},{"pop":"Ammassalik","pc1":189,"pc2":-147},{"pop":"Ammassalik","pc1":212,"pc2":-134},{"pop":"Ammassalik","pc1":219,"pc2":-127},{"pop":"Ammassalik","pc1":224,"pc2":-120},{"pop":"Ammassalik","pc1":227,"pc2":-114},{"pop":"Ammassalik","pc1":221,"pc2":-107},{"pop":"Ammassalik","pc1":231,"pc2":-107},{"pop":"Ammassalik","pc1":237,"pc2":-100},{"pop":"Ammassalik","pc1":244,"pc2":-97},{"pop":"Ammassalik","pc1":247,"pc2":-104},{"pop":"Ammassalik","pc1":209,"pc2":-142},{"pop":"Ammassalik","pc1":214,"pc2":-145},{"pop":"Ammassalik","pc1":217,"pc2":-140},{"pop":"Ammassalik","pc1":226,"pc2":-139},{"pop":"Ammassalik","pc1":231,"pc2":-137},{"pop":"Ammassalik","pc1":234,"pc2":-142},{"pop":"Ammassalik","pc1":241,"pc2":-140},{"pop":"Ammassalik","pc1":244,"pc2":-127},{"pop":"Ammassalik","pc1":247,"pc2":-130},{"pop":"Ammassalik","pc1":246,"pc2":-147},{"pop":"Ammassalik","pc1":249,"pc2":-154},{"pop":"Ammassalik","pc1":207,"pc2":-154},{"pop":"Ammassalik","pc1":211,"pc2":-160},{"pop":"Ammassalik","pc1":204,"pc2":-172},{"pop":"Ammassalik","pc1":216,"pc2":-175},{"pop":"Ammassalik","pc1":212,"pc2":-190},{"pop":"Ammassalik","pc1":234,"pc2":-117},{"pop":"Ammassalik","pc1":241,"pc2":-119},{"pop":"Ammassalik","pc1":261,"pc2":-114},{"pop":"Ammassalik","pc1":266,"pc2":-129},{"pop":"Ammassalik","pc1":271,"pc2":-164},{"pop":"Ammassalik","pc1":244,"pc2":-70},{"pop":"Ammassalik","pc1":247,"pc2":-80},{"pop":"Ammassalik","pc1":249,"pc2":-84},{"pop":"Ammassalik","pc1":241,"pc2":-67},{"pop":"Ammassalik","pc1":229,"pc2":-127},{"pop":"Ammassalik","pc1":236,"pc2":-132},{"pop":"Ammassalik","pc1":254,"pc2":-142},{"pop":"Ammassalik","pc1":226,"pc2":-152},{"pop":"Ammassalik","pc1":239,"pc2":-157},

      {"pop":"Unknown","pc1":-90,"pc2":-80},{"pop":"Unknown","pc1":7,"pc2":-36},{"pop":"Unknown","pc1":-171,"pc2":8}
    ],
    "tags": [
      {"tag":"UI1","pc1":-90,"pc2":-80},{"tag":"UI2","pc1":7,"pc2":-36},{"tag":"UI3","pc1":-171,"pc2":8}
    ],
    "groups": [
      {"name":"AFR","pc1":-145,"pc2":385},{"name":"SOM","pc1":-207,"pc2":158},{"name":"OCE","pc1":149,"pc2":113},{"name":"EAS","pc1":278,"pc2":68},{"name":"GRL EAST","pc1":360,"pc2":-129},{"name":"EUR + DEN","pc1":-241,"pc2":-219},{"name":"GRL WEST","pc1":-2,"pc2":-219},{"name":"AMR","pc1":219,"pc2":-252}
    ]
  },
  "layer": [
    {
      "data": {"values": [{}]},
      "mark": {"type": "rule", "color": "#666666", "strokeWidth": 1.5},
      "encoding": {"x": {"datum": 0, "type": "quantitative", "scale": {"domain": [-374, 409], "nice": false, "zero": false}, "axis": null}}
    },
    {
      "data": {"values": [{}]},
      "mark": {"type": "rule", "color": "#666666", "strokeWidth": 1.5},
      "encoding": {"y": {"datum": 0, "type": "quantitative", "scale": {"domain": [-335, 525], "nice": false, "zero": false}, "axis": null}}
    },
    {
      "data": {"name": "pts"},
      "mark": {"type": "point", "shape": "circle", "filled": true, "size": 60, "opacity": 1},
      "encoding": {
        "x": {"field": "pc1", "type": "quantitative", "scale": {"domain": [-374, 409], "nice": false, "zero": false}, "axis": null},
        "y": {"field": "pc2", "type": "quantitative", "scale": {"domain": [-335, 525], "nice": false, "zero": false}, "axis": null},
        "color": {
          "field": "pop", "type": "nominal",
          "scale": {
            "domain": ["Africa", "East Asia", "Europe", "Oceania", "America", "Denmark", "Nuuk", "Somalia", "Ammassalik", "Unknown"],
            "range": ["#0A0ACD", "#7F7F7F", "#E62A28", "#F2B8C8", "#9330DA", "#000000", "#2EDD2A", "#2C8530", "#E2760F", "#2FA8D8"]
          },
          "legend": {
            "orient": "none", "legendX": 607, "legendY": 77, "title": null, "padding": 0,
            "labelFont": "Liberation Sans", "labelFontSize": 14, "labelColor": "#222222", "labelOffset": 10,
            "symbolType": "circle", "symbolSize": 50, "symbolStrokeWidth": 0, "rowPadding": 15
          }
        }
      }
    },
    {
      "data": {"name": "tags"},
      "mark": {"type": "text", "align": "left", "baseline": "alphabetic", "dy": -8, "font": "Liberation Sans", "fontSize": 14, "color": "#333333"},
      "encoding": {
        "x": {"field": "pc1", "type": "quantitative", "scale": {"domain": [-374, 409], "nice": false, "zero": false}, "axis": null},
        "y": {"field": "pc2", "type": "quantitative", "scale": {"domain": [-335, 525], "nice": false, "zero": false}, "axis": null},
        "text": {"field": "tag"}
      }
    },
    {
      "data": {"name": "groups"},
      "mark": {"type": "text", "align": "center", "baseline": "middle", "font": "DejaVu Sans", "fontWeight": "bold", "fontSize": 31, "color": "#6E6E6E"},
      "encoding": {
        "x": {"field": "pc1", "type": "quantitative", "scale": {"domain": [-374, 409], "nice": false, "zero": false}, "axis": null},
        "y": {"field": "pc2", "type": "quantitative", "scale": {"domain": [-335, 525], "nice": false, "zero": false}, "axis": null},
        "text": {"field": "name"}
      }
    },
    {
      "data": {"values": [{"name": "PC-1 (30.9%)", "pc1": 5, "pc2": -307}]},
      "mark": {"type": "text", "align": "left", "baseline": "middle", "font": "Liberation Serif", "fontSize": 15, "color": "#333333"},
      "encoding": {
        "x": {"field": "pc1", "type": "quantitative", "scale": {"domain": [-374, 409], "nice": false, "zero": false}, "axis": null},
        "y": {"field": "pc2", "type": "quantitative", "scale": {"domain": [-335, 525], "nice": false, "zero": false}, "axis": null},
        "text": {"field": "name"}
      }
    },
    {
      "data": {"values": [{"name": "PC-2 (15.9%)", "pc1": -348, "pc2": 96}]},
      "mark": {"type": "text", "align": "center", "baseline": "middle", "angle": 270, "font": "Liberation Sans", "fontSize": 20, "color": "#333333"},
      "encoding": {
        "x": {"field": "pc1", "type": "quantitative", "scale": {"domain": [-374, 409], "nice": false, "zero": false}, "axis": null},
        "y": {"field": "pc2", "type": "quantitative", "scale": {"domain": [-335, 525], "nice": false, "zero": false}, "axis": null},
        "text": {"field": "name"}
      }
    }
  ]
}
